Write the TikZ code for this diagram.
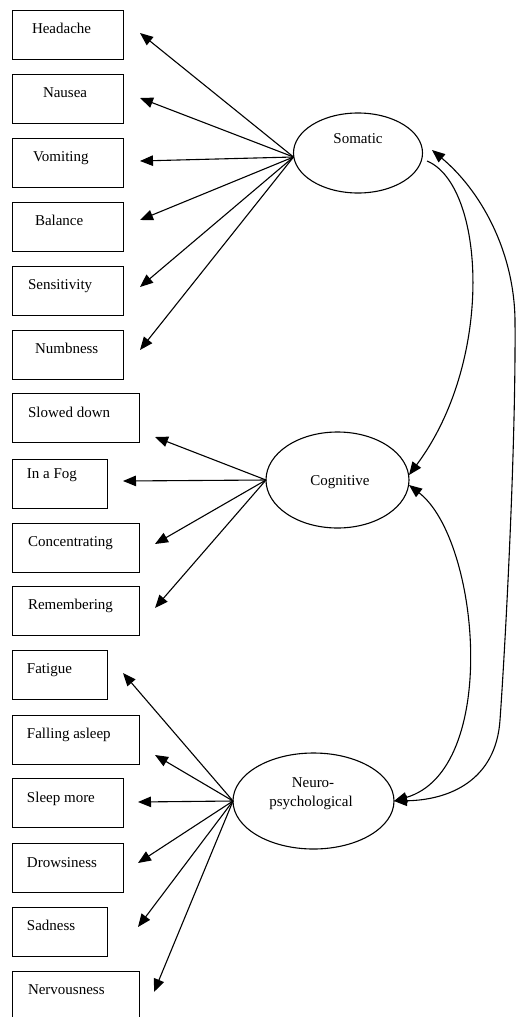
\documentclass[tikz,border=0pt]{standalone}
\usepackage{fontspec}
\setmainfont{Liberation Serif}
\usetikzlibrary{arrows.meta,shapes.geometric}
\newcommand\symbox[6]{%
  \node[box, minimum width=#3pt, anchor=north west] (#1) at (12,#2) {};
  \node[lbl, anchor=base west] (#1-t) at ([xshift=#4pt,yshift=-#5pt]#1.north west) {#6};%
}
\begin{document}
\begin{tikzpicture}[x=1pt,y=-1pt,
  font=\fontsize{15}{18}\selectfont,
  box/.style={draw, line width=1pt, minimum height=49pt, inner sep=0pt, outer sep=0pt},
  lbl/.style={inner sep=0pt, outer sep=0pt},
  latent/.style={draw, ellipse, line width=1.1pt, inner sep=0pt, outer sep=0pt},
  load/.style={line width=1.1pt, -{Triangle[length=13pt,width=10.5pt]}},
  corr/.style={line width=1.1pt, {Triangle[length=13pt,width=10.5pt]}-{Triangle[length=13pt,width=10.5pt]}},
  one/.style={line width=1.1pt, -{Triangle[length=13pt,width=10.5pt]}}
]
\useasboundingbox (0,0) rectangle (517,1017);
\clip (0,0) rectangle (517,1017);

% indicator boxes
\symbox{h}{10}{111}{20}{23}{Headache}
\symbox{n}{74}{111}{31}{23}{Nausea}
\symbox{v}{138}{111}{21}{23}{Vomiting}
\symbox{b}{202}{111}{23}{23}{Balance}
\symbox{s}{266}{111}{16}{23}{Sensitivity}
\symbox{nu}{330}{111}{23}{23}{Numbness}
\symbox{sd}{393}{127}{16}{24}{Slowed down}
\symbox{f}{459}{95}{15}{19}{In a Fog}
\symbox{c}{523}{127}{16}{23}{Concentrating}
\symbox{r}{586}{127}{16}{23}{Remembering}
\symbox{fa}{650}{95}{15}{23}{Fatigue}
\symbox{fl}{715}{127}{15}{23}{Falling asleep}
\symbox{sm}{778}{111}{15}{24}{Sleep more}
\symbox{dr}{843}{111}{15}{24}{Drowsiness}
\symbox{sa}{907}{95}{15}{23}{Sadness}
\symbox{ne}{971}{127}{16}{23}{Nervousness}

% latent factors
\node[latent, minimum width=129pt, minimum height=80pt] (som) at (358,153) {};
\node[lbl, anchor=base] (som-t) at (358,143) {Somatic};
\node[latent, minimum width=143pt, minimum height=96pt] (cog) at (337.5,480) {};
\node[lbl, anchor=base] (cog-t) at (340,485) {Cognitive};
\node[latent, minimum width=161pt, minimum height=96pt] (neu) at (313.5,801) {};
\node[lbl, anchor=base] (neu-t1) at (313,787) {Neuro-};
\node[lbl, anchor=base] (neu-t2) at (311,806) {psychological};

% arrow tips (free ends)
\coordinate (h-a) at (140,33);
\coordinate (n-a) at (140,98);
\coordinate (v-a) at (140,161);
\coordinate (b-a) at (140,220);
\coordinate (s-a) at (140,287);
\coordinate (nu-a) at (140,350);
\coordinate (sd-a) at (155,437);
\coordinate (f-a) at (123,481);
\coordinate (c-a) at (155,544);
\coordinate (r-a) at (155,608);
\coordinate (fa-a) at (123,673);
\coordinate (fl-a) at (155,755);
\coordinate (sm-a) at (138,802);
\coordinate (dr-a) at (138,863);
\coordinate (sa-a) at (138,927);
\coordinate (ne-a) at (154,992);

% loadings
\foreach \t in {h,n,v,b,s,nu}
  \draw[load] ([yshift=-4pt]som.west) -- (\t-a);
\foreach \t in {sd,f,c,r}
  \draw[load] (cog.west) -- (\t-a);
\foreach \t in {fa,fl,sm,dr,sa,ne}
  \draw[load] (neu.west) -- (\t-a);

% factor correlations
\draw[one] ([xshift=4.5pt,yshift=-8pt]som.east) .. controls (485,185) and (495,360) .. ([yshift=5pt]cog.east);
\draw[corr] ([xshift=9.5pt,yshift=3pt]som.east) .. controls (480,190) and (514,250) .. (515,320)
  .. controls (516,450) and (505,650) .. (500,720) .. controls (496,780) and (450,800) .. (neu.east);
\draw[corr] ([yshift=-5pt]cog.east) .. controls (480,540) and (500,770) .. (neu.east);
\end{tikzpicture}
\end{document}
